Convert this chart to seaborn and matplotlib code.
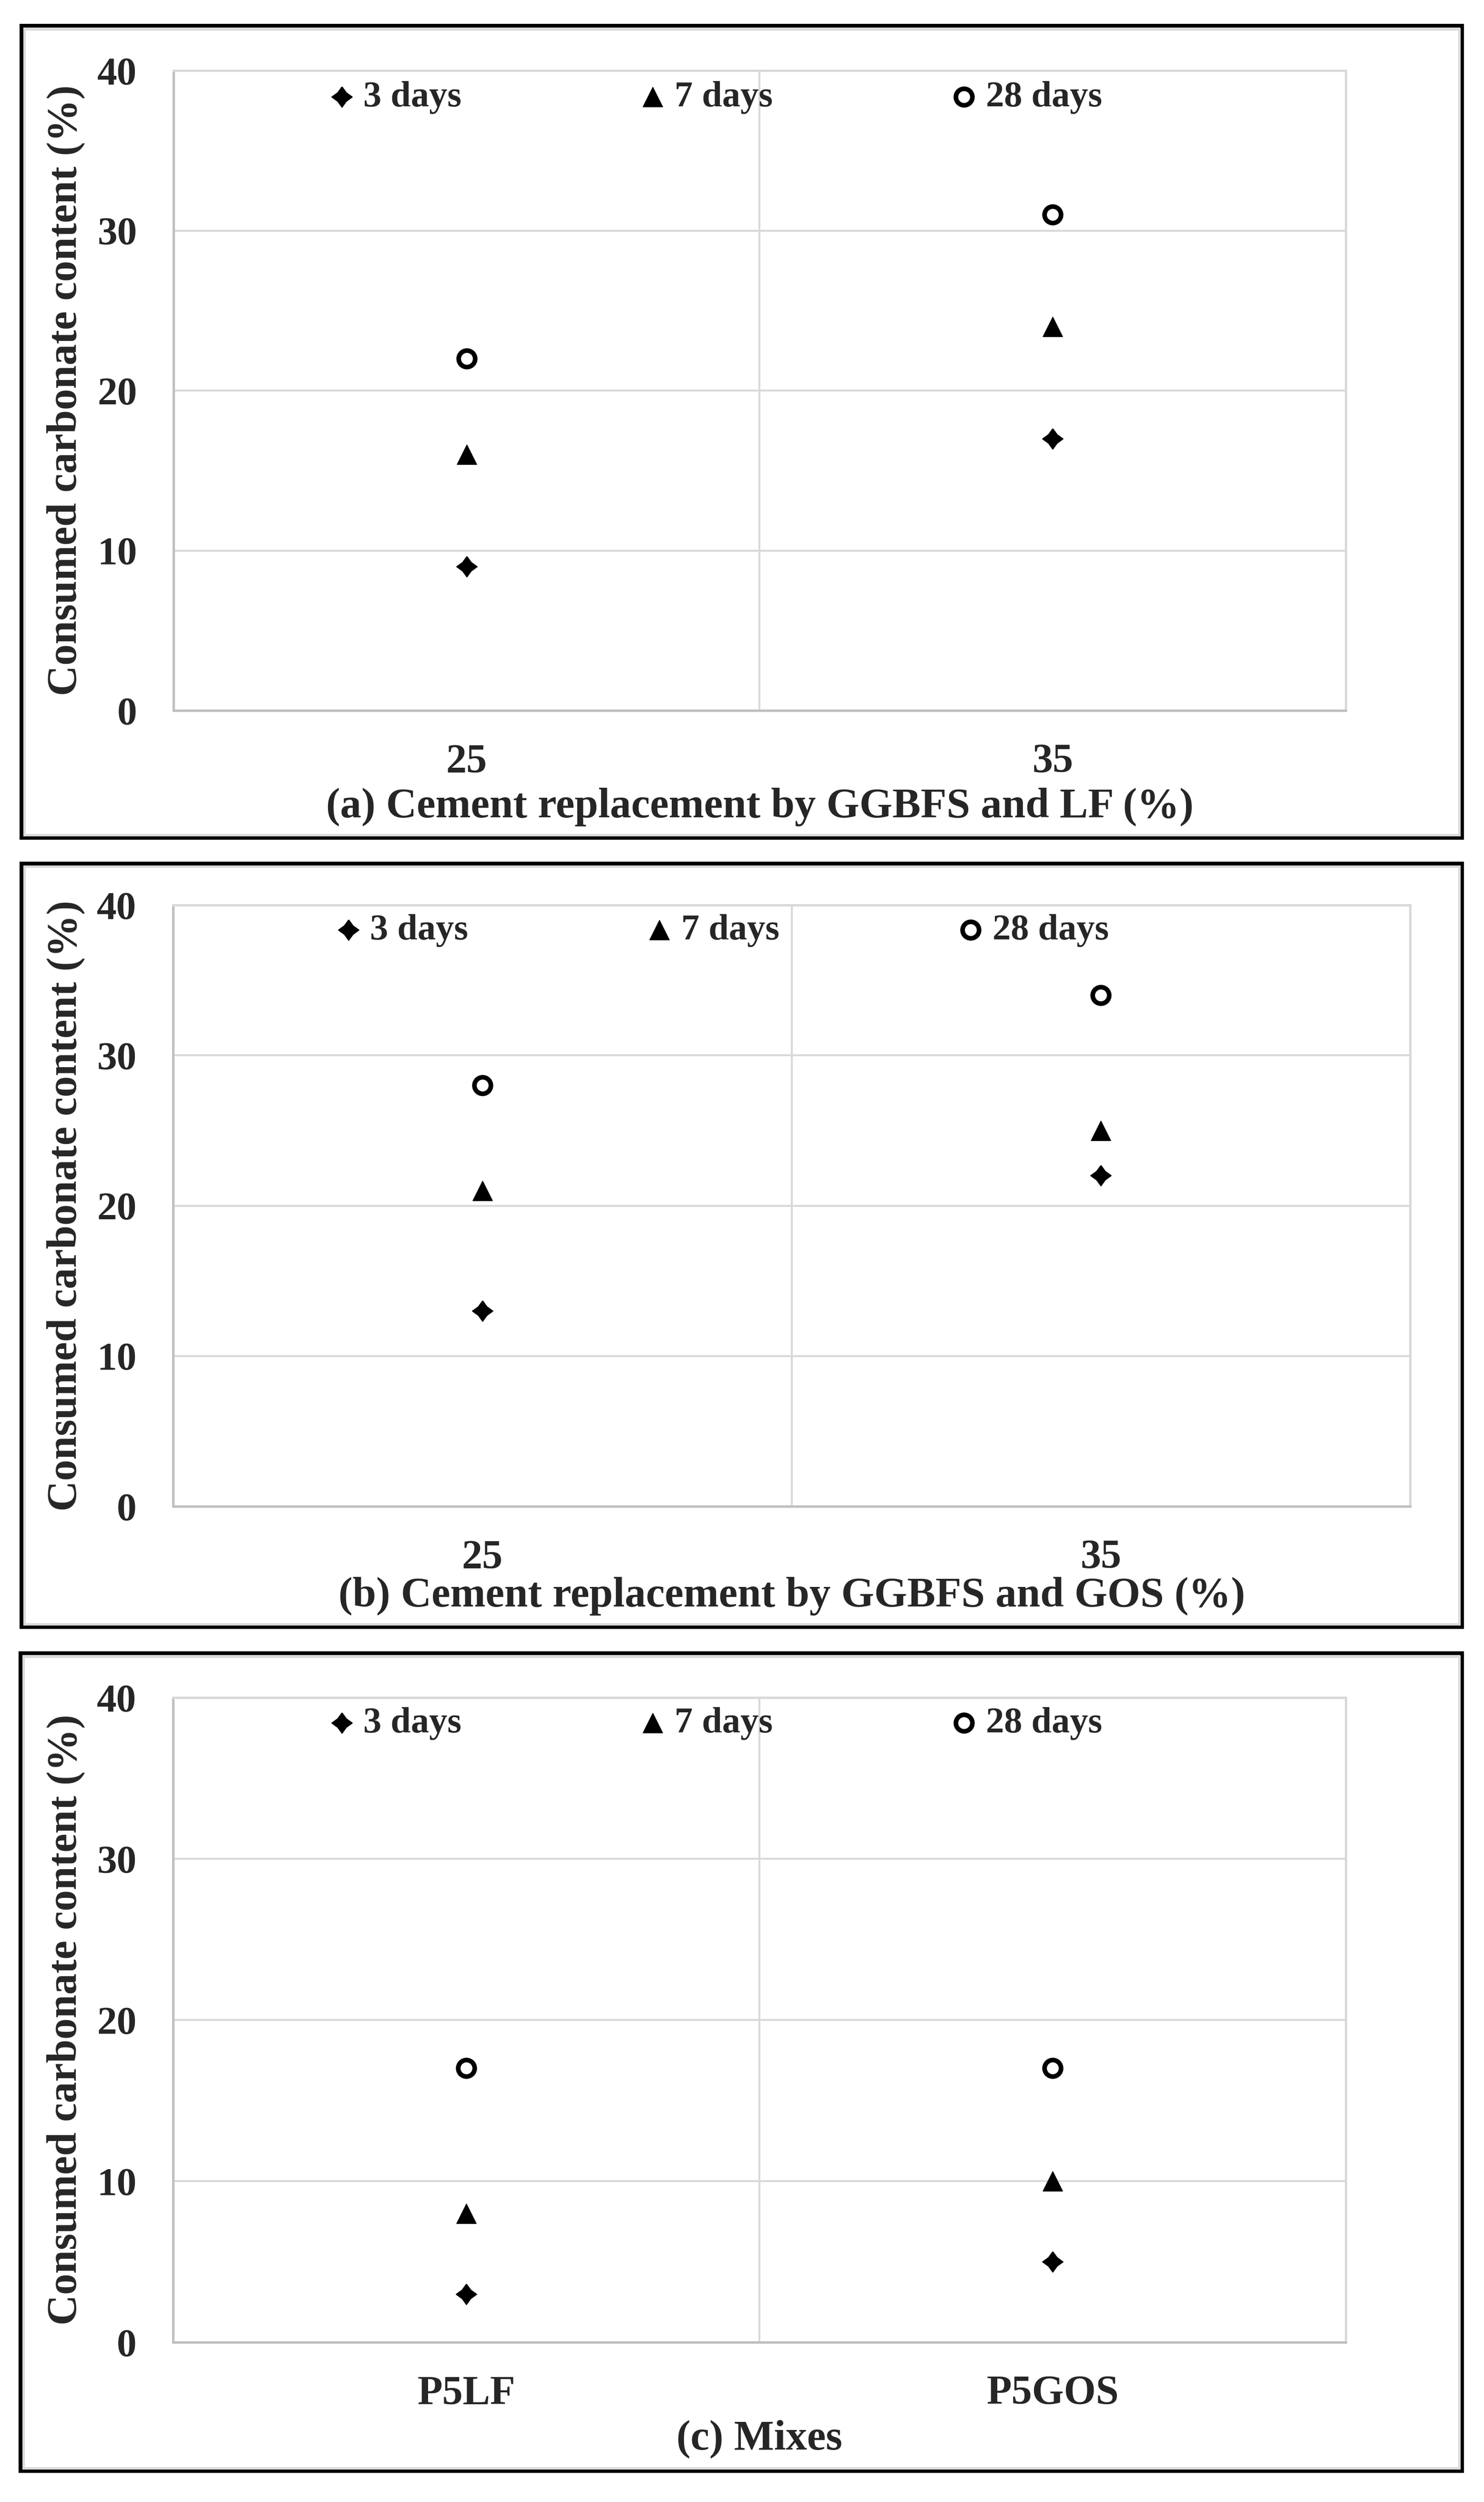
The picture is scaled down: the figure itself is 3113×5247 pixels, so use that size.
import matplotlib
import matplotlib.pyplot as plt
import matplotlib.transforms as mtransforms
import seaborn as sns
from matplotlib.patches import Rectangle
from matplotlib.ticker import FixedLocator

matplotlib.use("Agg")

# data
ages = ["3 days", "7 days", "28 days"]

cats_a = ["25", "35"]
a_3d = [9, 17]
a_7d = [16, 24]
a_28d = [22, 31]

cats_b = ["25", "35"]
b_3d = [13, 22]
b_7d = [21, 25]
b_28d = [28, 34]

cats_c = ["P5LF", "P5GOS"]
c_3d = [3, 5]
c_7d = [8, 10]
c_28d = [17, 17]

xlabels = [
    "(a) Cement replacement by GGBFS and LF (%)",
    "(b) Cement replacement by GGBFS and GOS (%)",
    "(c) Mixes",
]
ylabel = "Consumed carbonate content (%)"
yticks = [0, 10, 20, 30, 40]

sns.set_style("white")
plt.rcParams["font.family"] = ["Liberation Serif", "DejaVu Serif"]
plt.rcParams["font.weight"] = "bold"

W, H, DPI = 3113, 5247, 100

# fat four-point star, close to the notched diamond used for 3 days
star = [(0, 1), (0.42, 0.42), (1, 0), (0.42, -0.42),
        (0, -1), (-0.42, -0.42), (-1, 0), (-0.42, 0.42), (0, 1)]

marker_kw = {
    "3 days": dict(marker=star, s=950, color="black", edgecolor="black", linewidth=1.5),
    "7 days": dict(marker="^", s=880, color="black", edgecolor="black", linewidth=1),
    "28 days": dict(marker="o", s=620, facecolor="white", edgecolor="black", linewidth=7),
}

# pixel layout: axes box (left, top, right, bottom), frame box, legend, label rows
panels = [
    dict(cats=cats_a, series=[a_3d, a_7d, a_28d], ax=(364, 148, 2823, 1490),
         frame=(41, 50, 3071, 1761), leg=(686, 204), xlab_y=1692),
    dict(cats=cats_b, series=[b_3d, b_7d, b_28d], ax=(363, 1898, 2958, 3159),
         frame=(41, 1807, 3071, 3416), leg=(700, 1951), xlab_y=3348),
    dict(cats=cats_c, series=[c_3d, c_7d, c_28d], ax=(363, 3560, 2823, 4912),
         frame=(39, 3463, 3071, 5186), leg=(686, 3614), xlab_y=5115),
]

fig = plt.figure(figsize=(W / DPI, H / DPI), dpi=DPI)


def frame_box(x0, y0, x1, y1, inset, color, lw_px):
    rect = Rectangle(
        ((x0 + inset) / W, 1 - (y1 - inset) / H),
        (x1 - x0 - 2 * inset) / W,
        (y1 - y0 - 2 * inset) / H,
        transform=fig.transFigure, fill=False, edgecolor=color,
        linewidth=lw_px * 72 / DPI,
    )
    fig.add_artist(rect)


for i, p in enumerate(panels):
    l, t, r, b = p["ax"]
    ax = fig.add_axes([l / W, 1 - b / H, (r - l) / W, (b - t) / H])

    for age, vals in zip(ages, p["series"]):
        sns.scatterplot(x=p["cats"], y=vals, label=age, legend=False, ax=ax,
                        zorder=3, **marker_kw[age])

    ax.set_xlim(-0.5, 1.5)
    ax.set_ylim(0, 40)
    ax.set_yticks(yticks)
    ax.xaxis.set_minor_locator(FixedLocator([0.5]))
    ax.grid(False)
    ax.grid(axis="y", which="major", color="#d9d9d9", linewidth=3)
    ax.grid(axis="x", which="minor", color="#d9d9d9", linewidth=3)
    ax.tick_params(axis="both", which="both", length=0)
    ax.tick_params(axis="x", pad=50, labelsize=62)
    ax.tick_params(axis="y", pad=55, labelsize=60)
    for lab in ax.get_xticklabels() + ax.get_yticklabels():
        lab.set_fontweight("bold")

    for side in ["left", "bottom"]:
        ax.spines[side].set_color("#bfbfbf")
        ax.spines[side].set_linewidth(3.6)
    for side in ["top", "right"]:
        ax.spines[side].set_color("#d9d9d9")
        ax.spines[side].set_linewidth(3.6)

    ax.set_ylabel(ylabel, fontsize=64, fontweight="bold")
    ax.yaxis.set_label_coords(
        138 / W, 0.5,
        transform=mtransforms.blended_transform_factory(fig.transFigure, ax.transAxes),
    )
    ax.yaxis.label.set_va("center")

    ax.set_xlabel(xlabels[i], fontsize=64, fontweight="bold")
    ax.xaxis.set_label_coords(
        0.5, 1 - p["xlab_y"] / H,
        transform=mtransforms.blended_transform_factory(ax.transAxes, fig.transFigure),
    )
    ax.xaxis.label.set_va("center")

    lx, ly = p["leg"]
    ax.legend(
        ncol=3, loc="center left", bbox_to_anchor=(lx / W, 1 - ly / H),
        bbox_transform=fig.transFigure, frameon=False,
        prop={"weight": "bold", "size": 55}, handlelength=0.8, handletextpad=0.2,
        columnspacing=4.85, borderpad=0, borderaxespad=0, scatterpoints=1,
    )

    fx0, fy0, fx1, fy1 = p["frame"]
    frame_box(fx0, fy0, fx1, fy1, 4, "black", 8)
    frame_box(fx0, fy0, fx1, fy1, 10.5, "#d9d9d9", 5)

fig.savefig("out.png", dpi=DPI, facecolor="white")
plt.close(fig)
